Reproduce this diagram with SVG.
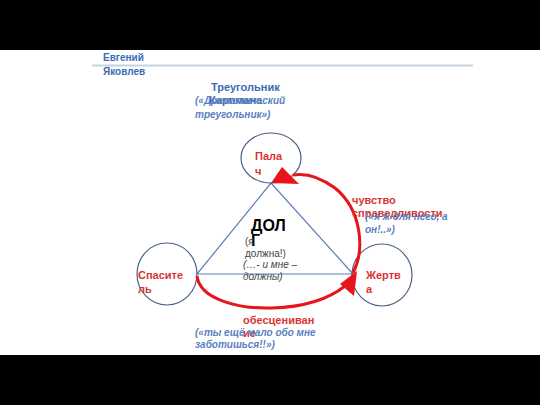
<svg xmlns="http://www.w3.org/2000/svg" width="540" height="405" viewBox="0 0 540 405">
<style>
.author{font-family:"Liberation Sans",Arial,sans-serif;font-size:10px;font-weight:bold;fill:#3b6cb0}
.title{font-family:"Liberation Sans",Arial,sans-serif;font-size:11px;font-weight:bold;fill:#3b6cb0}
.note{font-family:"Liberation Sans",Arial,sans-serif;font-size:10px;font-weight:bold;font-style:italic;fill:#5b7fbf}
.role{font-family:"Liberation Sans",Arial,sans-serif;font-size:11px;font-weight:bold;fill:#d83434}
.big{font-family:"Liberation Sans",Arial,sans-serif;font-size:16px;font-weight:bold;fill:#000}
.small{font-family:"Liberation Sans",Arial,sans-serif;font-size:10px;fill:#444}
.smalli{font-family:"Liberation Sans",Arial,sans-serif;font-size:10px;font-style:italic;fill:#444}
.circ{fill:none;stroke:#4a6284;stroke-width:1.2}
.tri{fill:none;stroke:#5a80b4;stroke-width:1.2}
.arc{fill:none;stroke:#e8141c;stroke-width:3}
.head{fill:#e8141c}
</style>
<rect x="0" y="0" width="540" height="405" fill="#fff"/>
<rect x="0" y="0" width="540" height="50" fill="#000"/>
<rect x="0" y="355" width="540" height="50" fill="#000"/>
<line x1="92" y1="65.5" x2="473" y2="65.5" stroke="#c6d4e2" stroke-width="2"/>
<text class="author" x="103" y="61">Евгений</text>
<text class="author" x="103" y="75">Яковлев</text>
<text class="title" x="211" y="91">Треугольник</text>
<text class="title" x="209" y="104">Карпмана</text>
<text class="note" x="195" y="104">(«Драматический</text>
<text class="note" x="195" y="118">треугольник»)</text>

<g id="triangle">
<polygon class="tri" points="271,183 197,274 353,274"/>
<text class="big" x="251" y="231">ДОЛ</text>
<text class="big" x="251" y="246">Г</text>
<text class="small" x="245" y="245">(я</text>
<text class="small" x="245" y="257">должна!)</text>
<text class="smalli" x="243" y="268">(…- и мне –</text>
<text class="smalli" x="243" y="280">должны)</text>
</g>

<g id="palach">
<ellipse class="circ" cx="271" cy="158" rx="30" ry="25"/>
<text class="role" x="255" y="160">Пала</text>
<text class="role" x="255" y="175">ч</text>
</g>

<g id="spasitel">
<ellipse class="circ" cx="167" cy="274" rx="30" ry="31"/>
<text class="role" x="138" y="279">Спасите</text>
<text class="role" x="138" y="293">ль</text>
</g>

<g id="zhertva">
<ellipse class="circ" cx="382" cy="275" rx="30" ry="31"/>
<text class="role" x="366" y="279">Жертв</text>
<text class="role" x="366" y="293">а</text>
</g>

<g id="connectors">
<path class="arc" d="M 353 273 C 365 250, 362 210, 335 188 C 320 177, 305 173, 293 175"/>
<polygon class="head" points="271,183 282,167 299,184"/>
<path class="arc" d="M 197 276 C 200 300, 240 309, 272 308 C 305 307, 330 298, 345 286"/>
<polygon class="head" points="357,271 340,284 354,296"/>
</g>

<g id="labels">
<text class="role" x="352" y="204">чувство</text>
<text class="role" x="352" y="217">справедливости</text>
<text class="note" x="365" y="220">(«я ж для него, а</text>
<text class="note" x="365" y="233">он!..»)</text>
<text class="role" x="243" y="324">обесцениван</text>
<text class="role" x="243" y="337">ие</text>
<text class="note" x="195" y="336">(«ты ещё мало обо мне</text>
<text class="note" x="195" y="348">заботишься!!»)</text>
</g>
</svg>
